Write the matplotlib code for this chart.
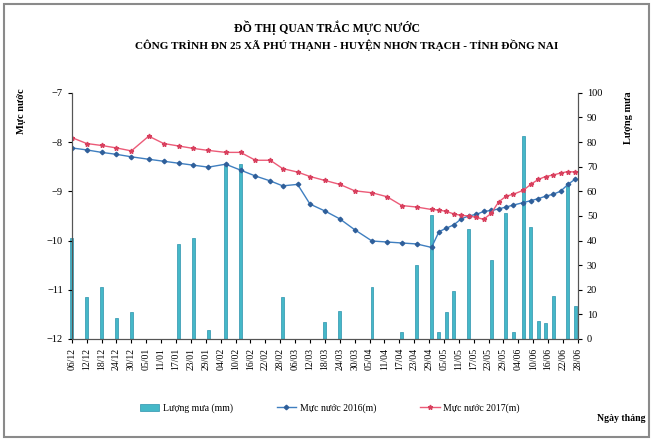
import matplotlib
matplotlib.use('Agg')
import matplotlib.pyplot as plt
from matplotlib.patches import Rectangle
from matplotlib.lines import Line2D
from matplotlib.patches import Patch

plt.rcParams['font.family'] = ['Liberation Serif', 'DejaVu Serif']

# days counted from 06/12/2016
days = [0, 6, 12, 18, 24, 31, 37, 43, 49, 55, 62, 68, 74, 80, 85, 91, 96, 102,
        108, 114, 121, 127, 133, 139, 145, 148, 151, 154, 157, 160, 163, 166,
        169, 172, 175, 178, 182, 185, 188, 191, 194, 197, 200, 203]

level_2016 = [-8.12, -8.16, -8.21, -8.25, -8.30, -8.35, -8.39, -8.43, -8.47, -8.51,
              -8.45, -8.57, -8.69, -8.79, -8.89, -8.86, -9.26, -9.40, -9.56, -9.78,
              -10.01, -10.03, -10.05, -10.07, -10.14, -9.82, -9.75, -9.68, -9.56,
              -9.50, -9.47, -9.41, -9.39, -9.36, -9.32, -9.28, -9.23, -9.19, -9.15,
              -9.10, -9.06, -9.00, -8.86, -8.75]

level_2017 = [-7.91, -8.03, -8.07, -8.12, -8.18, -7.88, -8.03, -8.08, -8.13, -8.17,
              -8.21, -8.21, -8.37, -8.37, -8.54, -8.61, -8.70, -8.78, -8.86, -8.99,
              -9.03, -9.11, -9.29, -9.32, -9.37, -9.38, -9.41, -9.46, -9.49, -9.50,
              -9.53, -9.57, -9.45, -9.22, -9.10, -9.06, -8.98, -8.86, -8.76, -8.70,
              -8.67, -8.63, -8.60, -8.61]

rain_days = [0, 6, 12, 18, 24, 43, 49, 55, 62, 68, 85, 102, 108, 121, 133, 139, 145,
             148, 151, 154, 160, 169, 175, 178, 182, 185, 188, 191, 194, 200, 203]
rain = [41, 17, 21, 8.5, 11, 38.5, 41, 3.7, 71, 71, 17, 7, 11.5, 21, 2.7, 30, 50.5,
        2.7, 11, 19.5, 44.5, 32, 51, 2.7, 82.5, 45.5, 7.3, 6.4, 17.5, 63.5, 13.5]

tick_labels = ['06/12', '12/12', '18/12', '24/12', '30/12', '05/01', '11/01', '17/01',
               '23/01', '29/01', '04/02', '10/02', '16/02', '22/02', '28/02', '06/03',
               '12/03', '18/03', '24/03', '30/03', '05/04', '11/04', '17/04', '23/04',
               '29/04', '05/05', '11/05', '17/05', '23/05', '29/05', '04/06', '10/06',
               '16/06', '22/06', '28/06']

fig = plt.figure(figsize=(6.53, 4.44), dpi=100)
ax = fig.add_axes([0.110, 0.2365, 0.775, 0.5545])
ax2 = ax.twinx()

# rain bars on the right axis, drawn behind the lines
bars = ax2.bar(rain_days, rain, width=1.2, color='#45b8c8', edgecolor='#2c93ad', linewidth=0.5)
for b in bars:
    b.set_clip_on(False)
ax2.set_ylim(0, 100)
ax2.set_yticks(range(0, 101, 10))

ax.set_zorder(ax2.get_zorder() + 1)
ax.patch.set_visible(False)

ax.plot(days, level_2016, color='#3f7fc0', lw=1, marker='D', ms=2.3,
        mfc='#2f5f9a', mec='#2f5f9a')
ax.plot(days, level_2017, color='#ec5b78', lw=1, marker='*', ms=3.5,
        mfc='#d8405e', mec='#d8405e')

ax.set_ylim(-12, -7)
ax.set_xlim(0, 204)
ax.set_xticks(range(0, 205, 6))
ax.set_xticklabels(tick_labels, rotation=90, fontsize=7)
ax.tick_params(axis='y', labelsize=7.5, length=3)
ax.tick_params(axis='x', length=3)
ax2.tick_params(axis='y', labelsize=7.5, length=3)

for a in (ax, ax2):
    a.spines['top'].set_visible(False)
    for s in ('left', 'bottom', 'right'):
        a.spines[s].set_color('#555555')
        a.spines[s].set_linewidth(0.8)

fig.text(0.50, 0.937, 'ĐỒ THỊ QUAN TRẮC MỰC NƯỚC', ha='center', va='center',
         fontsize=8.5, fontweight='bold')
fig.text(0.531, 0.898, 'CÔNG TRÌNH ĐN 25 XÃ PHÚ THẠNH - HUYỆN NHƠN TRẠCH - TỈNH ĐỒNG NAI',
         ha='center', va='center', fontsize=8.1, fontweight='bold')

fig.text(0.033, 0.75, 'Mực nước', rotation=90, ha='center', va='center',
         fontsize=7.5, fontweight='bold')
fig.text(0.963, 0.735, 'Lượng mưa', rotation=90, ha='center', va='center',
         fontsize=7.5, fontweight='bold')
fig.text(0.988, 0.058, 'Ngày tháng', ha='right', va='center', fontsize=7, fontweight='bold')

handles = [Patch(facecolor='#45b8c8', edgecolor='#2c93ad', linewidth=0.5),
           Line2D([], [], color='#3f7fc0', lw=1, marker='D', ms=2.3,
                  mfc='#2f5f9a', mec='#2f5f9a'),
           Line2D([], [], color='#ec5b78', lw=1, marker='*', ms=3.5,
                  mfc='#d8405e', mec='#d8405e')]
fig.legend(handles, ['Lượng mưa (mm)', 'Mực nước 2016(m)', 'Mực nước 2017(m)'],
           loc='center', bbox_to_anchor=(0.505, 0.081), ncol=3, frameon=False,
           fontsize=7, handlelength=2.0, columnspacing=4.5, handletextpad=0.4)

fig.patches.append(Rectangle((0.006, 0.016), 0.988, 0.974, transform=fig.transFigure,
                             fill=False, edgecolor='#8a8a8a', lw=1.5))

fig.savefig('out.png', dpi=100)
